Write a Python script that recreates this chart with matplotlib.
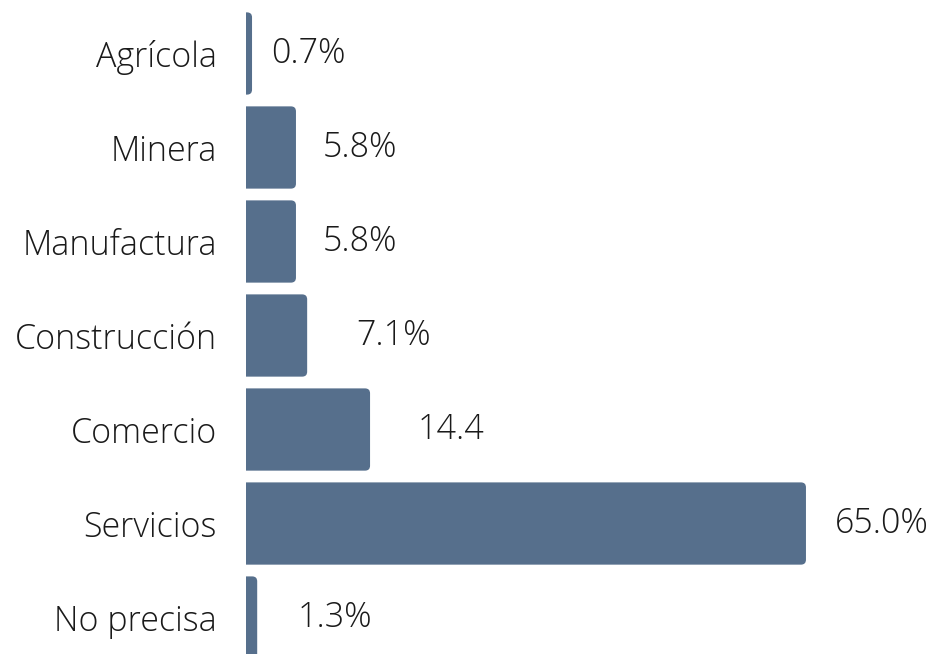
import matplotlib
matplotlib.use('Agg')
import matplotlib.pyplot as plt
from matplotlib.patches import FancyBboxPatch
import numpy as np

plt.rcParams['font.family'] = ['Open Sans', 'DejaVu Sans']

# datos
categorias = ['Agrícola', 'Minera', 'Manufactura', 'Construcción', 'Comercio', 'Servicios', 'No precisa']
valores = [0.7, 5.8, 5.8, 7.1, 14.4, 65.0, 1.3]
etiquetas = ['0.7%', '5.8%', '5.8%', '7.1%', '14.4', '65.0%', '1.3%']

color_barra = '#566f8c'
desplaz = [14, 19, 19, 35, 34, 21, 29]  # separación de la etiqueta (pt)

fig = plt.figure(figsize=(9.32, 6.54), dpi=100)
ax = fig.add_axes([246 / 932, 0, 1 - 246 / 932, 1])

y = np.arange(len(categorias))
bars = ax.barh(y, valores, height=0.875, color=color_barra)

# redondear esquinas derechas
px_x = (932 - 246) / 79.63
r = 5 / px_x
for b in bars:
    b.set_visible(False)
    p = FancyBboxPatch((b.get_x() - r, b.get_y()), b.get_width() + r, b.get_height(),
                       boxstyle=f'round,pad=0,rounding_size={r}',
                       mutation_aspect=(1 / 94) / (1 / px_x),
                       facecolor=color_barra, edgecolor='none')
    ax.add_patch(p)

for i, (v, t) in enumerate(zip(valores, etiquetas)):
    ax.annotate(t, (v, i), xytext=(desplaz[i], 0), textcoords='offset points',
                va='center', ha='left', fontsize=24.5, fontweight='light', color='#1a1a1a')

ax.set_xlim(0, 79.63)
ax.set_ylim(6.388, -0.569)
ax.set_yticks(y)
ax.set_yticklabels(categorias, fontsize=24.5, fontweight='light', color='#1a1a1a')
ax.tick_params(axis='y', length=0, pad=21)
ax.set_xticks([])
for s in ax.spines.values():
    s.set_visible(False)

plt.savefig('out.png', dpi=100)
plt.close()
